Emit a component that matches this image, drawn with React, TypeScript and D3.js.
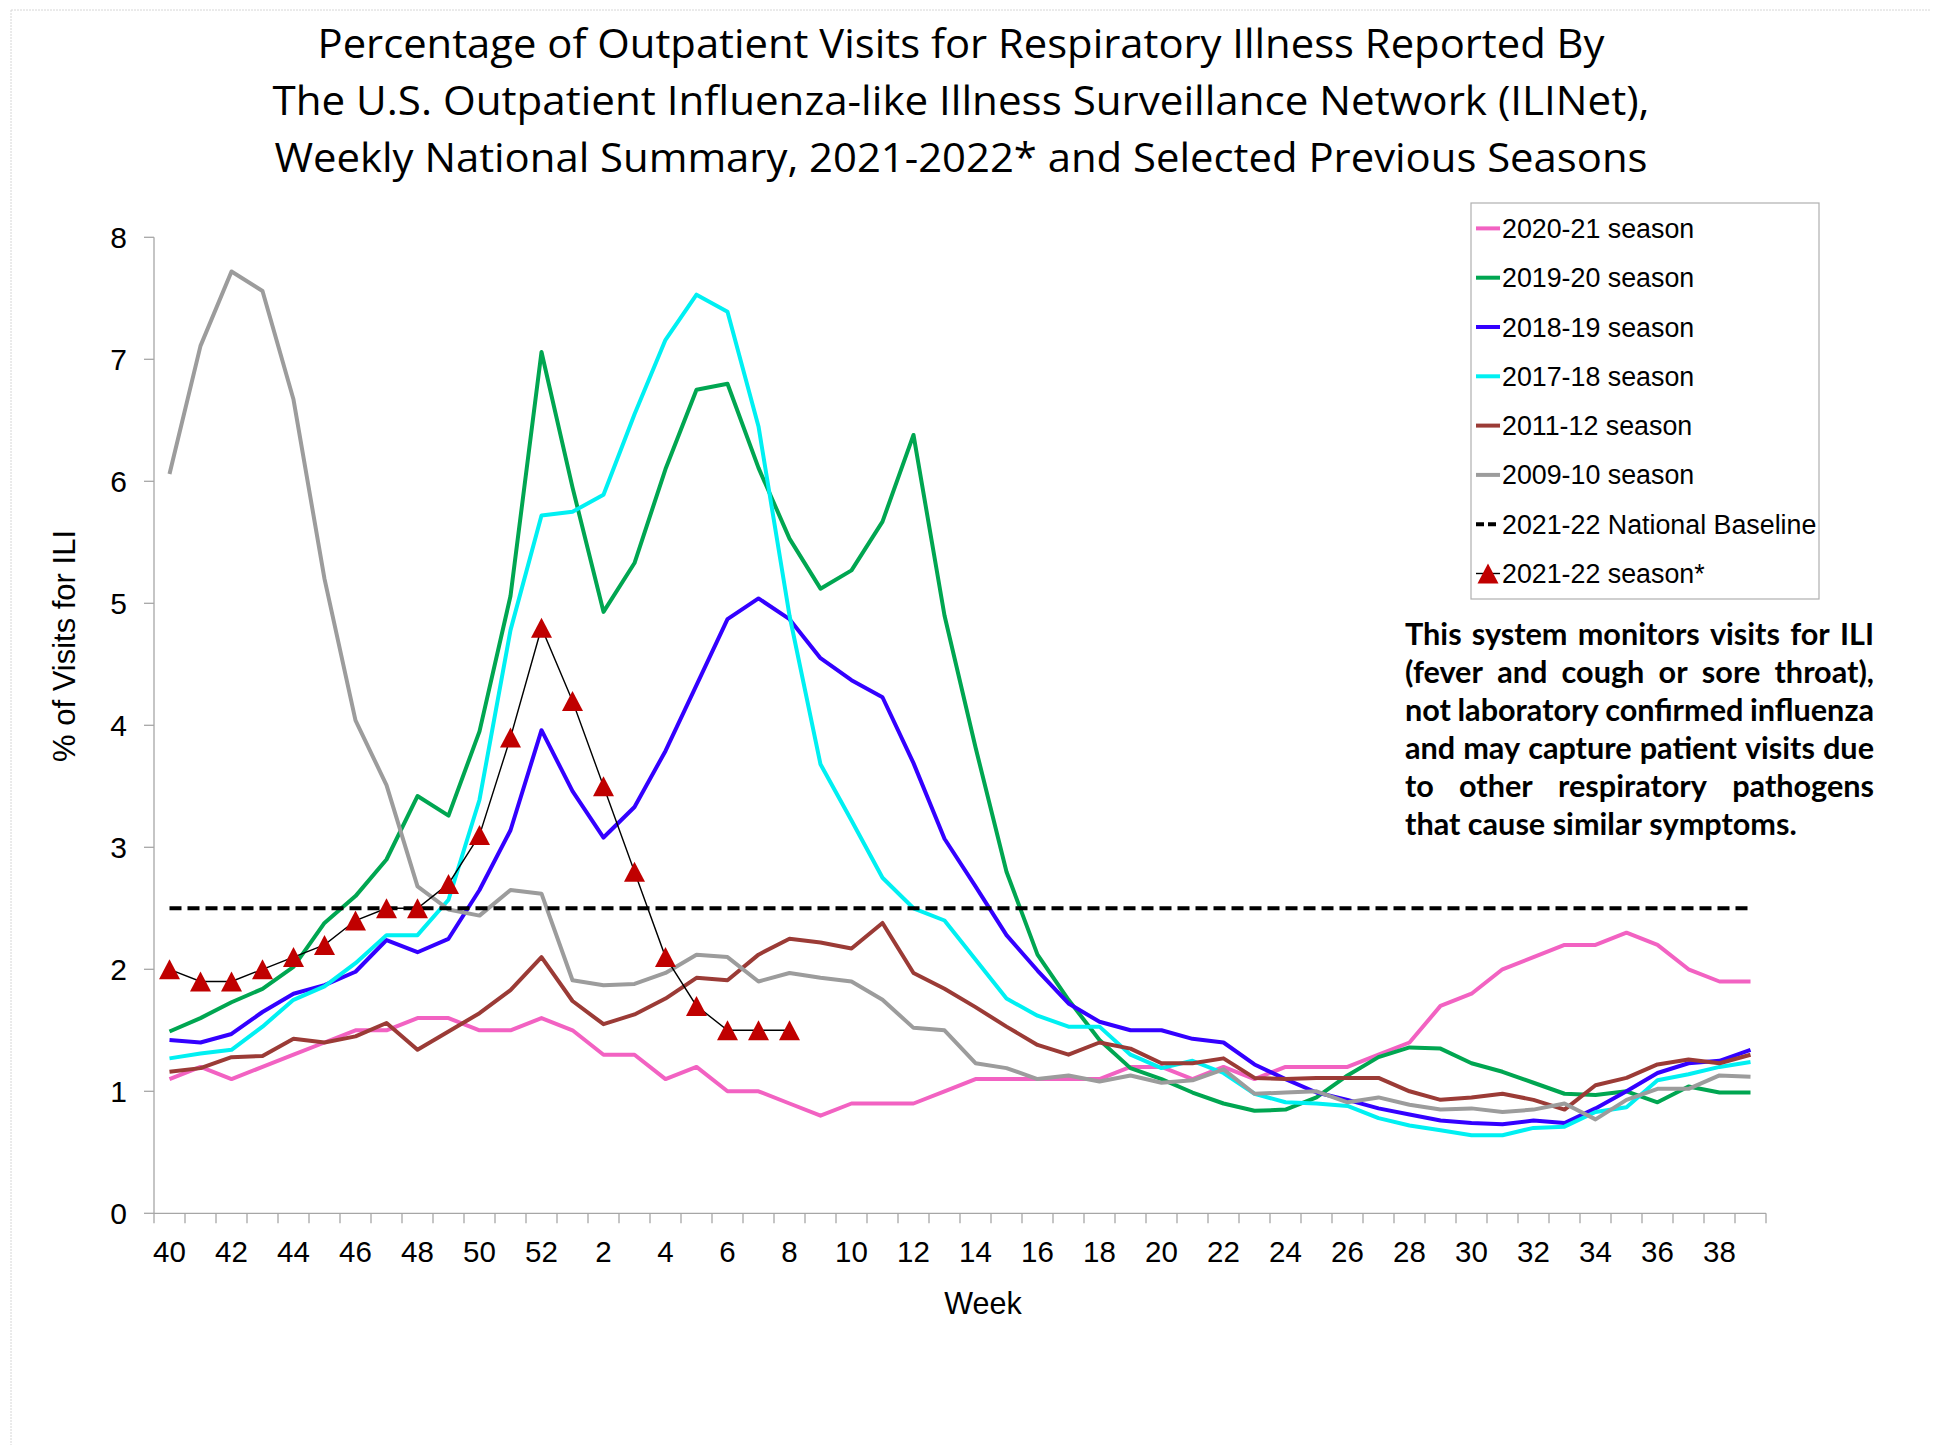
import React from 'react';
import * as d3 from 'd3';

// ---------- DATA ----------
const weeks: number[] = [40, 41, 42, 43, 44, 45, 46, 47, 48, 49, 50, 51, 52,
  1, 2, 3, 4, 5, 6, 7, 8, 9, 10, 11, 12, 13, 14, 15, 16, 17, 18, 19, 20,
  21, 22, 23, 24, 25, 26, 27, 28, 29, 30, 31, 32, 33, 34, 35, 36, 37, 38, 39];
const tickWeeks: number[] = weeks.filter((w) => w % 2 === 0);
const yTicks: number[] = [0, 1, 2, 3, 4, 5, 6, 7, 8];
const baselineValue = 2.5;

const s2020_21: number[] = [1.1, 1.2, 1.1, 1.2, 1.3, 1.4, 1.5, 1.5, 1.6, 1.6, 1.5, 1.5, 1.6,
  1.5, 1.3, 1.3, 1.1, 1.2, 1.0, 1.0, 0.9, 0.8, 0.9, 0.9, 0.9, 1.0, 1.1, 1.1, 1.1, 1.1, 1.1, 1.2, 1.2,
  1.1, 1.2, 1.1, 1.2, 1.2, 1.2, 1.3, 1.4, 1.7, 1.8, 2.0, 2.1, 2.2, 2.2, 2.3, 2.2, 2.0, 1.9, 1.9];
const s2019_20: number[] = [1.49, 1.6, 1.73, 1.84, 2.02, 2.38, 2.6, 2.9, 3.42, 3.26, 3.95, 5.06, 7.06,
  5.95, 4.93, 5.33, 6.1, 6.75, 6.8, 6.11, 5.53, 5.12, 5.27, 5.67, 6.38, 4.9, 3.82, 2.8, 2.12, 1.75, 1.42, 1.19, 1.1,
  0.99, 0.9, 0.84, 0.85, 0.95, 1.13, 1.28, 1.36, 1.35, 1.23, 1.16, 1.07, 0.98, 0.97, 1.0, 0.91, 1.04, 0.99, 0.99];
const s2018_19: number[] = [1.42, 1.4, 1.47, 1.65, 1.8, 1.87, 1.98, 2.24, 2.14, 2.25, 2.65, 3.14, 3.96,
  3.46, 3.08, 3.33, 3.79, 4.33, 4.87, 5.04, 4.87, 4.55, 4.37, 4.23, 3.69, 3.07, 2.68, 2.28, 1.99, 1.72, 1.57, 1.5, 1.5,
  1.43, 1.4, 1.22, 1.1, 0.99, 0.93, 0.86, 0.81, 0.76, 0.74, 0.73, 0.76, 0.74, 0.86, 1.0, 1.15, 1.23, 1.25, 1.34];
const s2017_18: number[] = [1.27, 1.31, 1.34, 1.53, 1.75, 1.86, 2.05, 2.28, 2.28, 2.57, 3.39, 4.78, 5.72,
  5.75, 5.89, 6.55, 7.16, 7.53, 7.39, 6.45, 4.9, 3.68, 3.22, 2.75, 2.5, 2.4, 2.08, 1.76, 1.62, 1.53, 1.53, 1.3, 1.19,
  1.25, 1.15, 0.98, 0.91, 0.9, 0.88, 0.78, 0.72, 0.68, 0.64, 0.64, 0.7, 0.71, 0.83, 0.87, 1.09, 1.14, 1.2, 1.24];
const s2011_12: number[] = [1.16, 1.19, 1.28, 1.29, 1.43, 1.4, 1.45, 1.56, 1.34, 1.49, 1.64, 1.83, 2.1,
  1.74, 1.55, 1.63, 1.76, 1.93, 1.91, 2.12, 2.25, 2.22, 2.17, 2.38, 1.97, 1.84, 1.69, 1.53, 1.38, 1.3, 1.4, 1.35, 1.23,
  1.23, 1.27, 1.11, 1.1, 1.11, 1.11, 1.11, 1.0, 0.93, 0.95, 0.98, 0.93, 0.85, 1.05, 1.11, 1.22, 1.26, 1.23, 1.3];
const s2009_10: number[] = [6.06, 7.11, 7.72, 7.56, 6.67, 5.2, 4.04, 3.51, 2.68, 2.49, 2.44, 2.65, 2.62,
  1.91, 1.87, 1.88, 1.97, 2.12, 2.1, 1.9, 1.97, 1.93, 1.9, 1.75, 1.52, 1.5, 1.23, 1.19, 1.1, 1.13, 1.08, 1.13, 1.07,
  1.09, 1.18, 0.98, 0.99, 1.0, 0.91, 0.95, 0.89, 0.85, 0.86, 0.83, 0.85, 0.9, 0.77, 0.93, 1.02, 1.02, 1.13, 1.12];
const s2021_22: number[] = [2.0, 1.9, 1.9, 2.0, 2.1, 2.2, 2.4, 2.5, 2.5, 2.7, 3.1, 3.9, 4.8,
  4.2, 3.5, 2.8, 2.1, 1.7, 1.5, 1.5, 1.5];

const seriesLabels: string[] = ['2020-21 season', '2019-20 season', '2018-19 season', '2017-18 season',
  '2011-12 season', '2009-10 season'];
const seriesColors: string[] = ['#F262C2', '#00A651', '#3300FF', '#00F0F2', '#9B3B36', '#9C9C9C'];
const seriesValues: number[][] = [s2020_21, s2019_20, s2018_19, s2017_18, s2011_12, s2009_10];
const baselineLabel = '2021-22 National Baseline';
const currentLabel = '2021-22 season*';

const titleLines: string[] = [
  'Percentage of Outpatient Visits for Respiratory Illness Reported By',
  'The U.S. Outpatient Influenza-like Illness Surveillance Network (ILINet),',
  'Weekly National Summary, 2021-2022* and Selected Previous Seasons',
];
const noteLines: string[] = [
  'This system monitors visits for ILI',
  '(fever and cough or sore throat),',
  'not laboratory confirmed influenza',
  'and may capture patient visits due',
  'to other respiratory pathogens',
  'that cause similar symptoms.',
];

// ---------- LAYOUT ----------
const W = 1938;
const H = 1445;
const plotLeft = 154;
const plotRight = 1766;
const plotTop = 237.3;
const plotBottom = 1213.3;
const ARIAL = "'Liberation Sans', Arial, sans-serif";

let ctx: CanvasRenderingContext2D | null = null;
function textWidth(t: string, font: string): number {
  if (!ctx && typeof document !== 'undefined') ctx = document.createElement('canvas').getContext('2d');
  if (!ctx) return t.length * 15;
  ctx.font = font;
  return ctx.measureText(t).width;
}

const triangleSymbol = {
  draw(context: any, size: number) {
    const w = Math.sqrt(size) * 1.05;
    const h = Math.sqrt(size);
    context.moveTo(0, -h / 2);
    context.lineTo(w / 2, h / 2);
    context.lineTo(-w / 2, h / 2);
    context.closePath();
  },
};

export default function App() {
  const x = d3.scaleBand<number>().domain(weeks).range([plotLeft, plotRight]).padding(0);
  const y = d3.scaleLinear().domain([0, 8]).range([plotBottom, plotTop]);
  const cx = (w: number) => (x(w) as number) + x.bandwidth() / 2;
  const line = d3.line<number>().x((_, i) => cx(weeks[i])).y((d) => y(d));
  const tri = d3.symbol(triangleSymbol as any, 400)();

  const boundaries = d3.range(weeks.length + 1).map((i) => plotLeft + i * x.bandwidth());

  // title
  const titleFontSize = Math.max(30, Math.min(40, (34 * 1287) / textWidth(titleLines[0], "34px 'Open Sans'")));
  const titleWidths = [1287, 1377, 1373];
  const titleBase = [57.7, 115, 171.7];

  // note text (justified)
  const noteFs = Math.max(22, Math.min(32, (30 * 392) / textWidth(noteLines[5], 'bold 30px Lato')));
  const noteFont = `bold ${noteFs}px Lato`;
  const noteLeft = 1405;
  const noteRight = 1874;
  const spaceW = textWidth(' ', noteFont);

  const legendX = 1471;
  const legendY = 203;
  const legendRowY = (i: number) => 228.4 + i * 49.3;
  const legendFs = 26.8;

  return (
    <svg width={W} height={H} style={{ position: 'absolute', left: 0, top: 0, background: '#fff' }}
      xmlns="http://www.w3.org/2000/svg">
      <rect x={0} y={0} width={W} height={H} fill="#fff" />
      {/* faint page border */}
      <line x1={11} x2={1930} y1={10} y2={10} stroke="#d6d6d6" strokeWidth={1} strokeDasharray="2 1" />
      <line x1={11} x2={11} y1={10} y2={H} stroke="#d6d6d6" strokeWidth={1} strokeDasharray="2 1" />

      {/* title */}
      {titleLines.map((t, i) => (
        <text key={t} x={961} y={titleBase[i]} textAnchor="middle" fontFamily="'Open Sans', sans-serif"
          fontSize={titleFontSize} fill="#000" textLength={titleWidths[i]} lengthAdjust="spacingAndGlyphs">{t}</text>
      ))}

      {/* axes */}
      <line x1={plotLeft} x2={plotLeft} y1={plotTop} y2={plotBottom} stroke="#a6a6a6" strokeWidth={1.3} />
      <line x1={plotLeft} x2={plotRight} y1={plotBottom} y2={plotBottom} stroke="#a6a6a6" strokeWidth={1.3} />
      {yTicks.map((t) => (
        <g key={'y' + t}>
          <line x1={plotLeft - 10} x2={plotLeft} y1={y(t)} y2={y(t)} stroke="#a6a6a6" strokeWidth={1.3} />
          <text x={127} y={y(t) + 10.8} textAnchor="end" fontFamily={ARIAL} fontSize={30} fill="#000">{t}</text>
        </g>
      ))}
      {boundaries.map((bx, i) => (
        <line key={'xt' + i} x1={bx} x2={bx} y1={plotBottom} y2={plotBottom + 10} stroke="#a6a6a6" strokeWidth={1.3} />
      ))}
      {tickWeeks.map((w) => (
        <text key={'xl' + w} x={cx(w)} y={1262} textAnchor="middle" fontFamily={ARIAL} fontSize={29.5} fill="#000">{w}</text>
      ))}
      <text x={983} y={1314} textAnchor="middle" fontFamily={ARIAL} fontSize={30.5} fill="#000">Week</text>
      <text transform="translate(75,646) rotate(-90)" textAnchor="middle" fontFamily={ARIAL} fontSize={31} fill="#000">% of Visits for ILI</text>

      {/* series */}
      {seriesValues.map((vals, si) => (
        <path key={seriesLabels[si]} d={line(vals) || ''} fill="none" stroke={seriesColors[si]} strokeWidth={4}
          strokeLinejoin="round" />
      ))}
      {/* baseline */}
      <line x1={cx(weeks[0])} x2={cx(weeks[weeks.length - 1])} y1={y(baselineValue)} y2={y(baselineValue)}
        stroke="#000" strokeWidth={4} strokeDasharray="12 6" />
      {/* current season */}
      <path d={line(s2021_22) || ''} fill="none" stroke="#000" strokeWidth={1.4} />
      {s2021_22.map((v, i) => (
        <path key={'tri' + i} d={tri || ''} transform={`translate(${cx(weeks[i])},${y(v)})`} fill="#C00000" />
      ))}

      {/* legend */}
      <rect x={legendX} y={legendY} width={348} height={396} fill="#fff" stroke="#b0b0b0" strokeWidth={1.2} />
      {seriesLabels.map((lab, i) => (
        <g key={'lg' + lab}>
          <line x1={1476} x2={1500} y1={legendRowY(i)} y2={legendRowY(i)} stroke={seriesColors[i]} strokeWidth={4} />
          <text x={1502} y={legendRowY(i) + 9.5} fontFamily={ARIAL} fontSize={legendFs} fill="#000">{lab}</text>
        </g>
      ))}
      <line x1={1476} x2={1500} y1={legendRowY(6)} y2={legendRowY(6)} stroke="#000" strokeWidth={4} strokeDasharray="8 4" />
      <text x={1502} y={legendRowY(6) + 9.5} fontFamily={ARIAL} fontSize={legendFs} fill="#000">{baselineLabel}</text>
      <line x1={1476} x2={1500} y1={legendRowY(7)} y2={legendRowY(7)} stroke="#000" strokeWidth={1.4} />
      <path d={tri || ''} transform={`translate(1488,${legendRowY(7)})`} fill="#C00000" />
      <text x={1502} y={legendRowY(7) + 9.5} fontFamily={ARIAL} fontSize={legendFs} fill="#000">{currentLabel}</text>

      {/* note */}
      {noteLines.map((ln, li) => {
        const words = ln.split(' ');
        const widths = words.map((w) => textWidth(w, noteFont));
        const total = widths.reduce((a, b) => a + b, 0);
        const justify = li < noteLines.length - 1 && words.length > 1;
        const gap = justify ? (noteRight - noteLeft - total) / (words.length - 1) : spaceW;
        let xx = noteLeft;
        const by = 645 + li * 38;
        return (
          <g key={'n' + li}>
            {words.map((w, wi) => {
              const el = (
                <text key={wi} x={xx} y={by} fontFamily="Lato, sans-serif" fontWeight="bold" fontSize={noteFs} fill="#000">{w}</text>
              );
              xx += widths[wi] + gap;
              return el;
            })}
          </g>
        );
      })}
    </svg>
  );
}
